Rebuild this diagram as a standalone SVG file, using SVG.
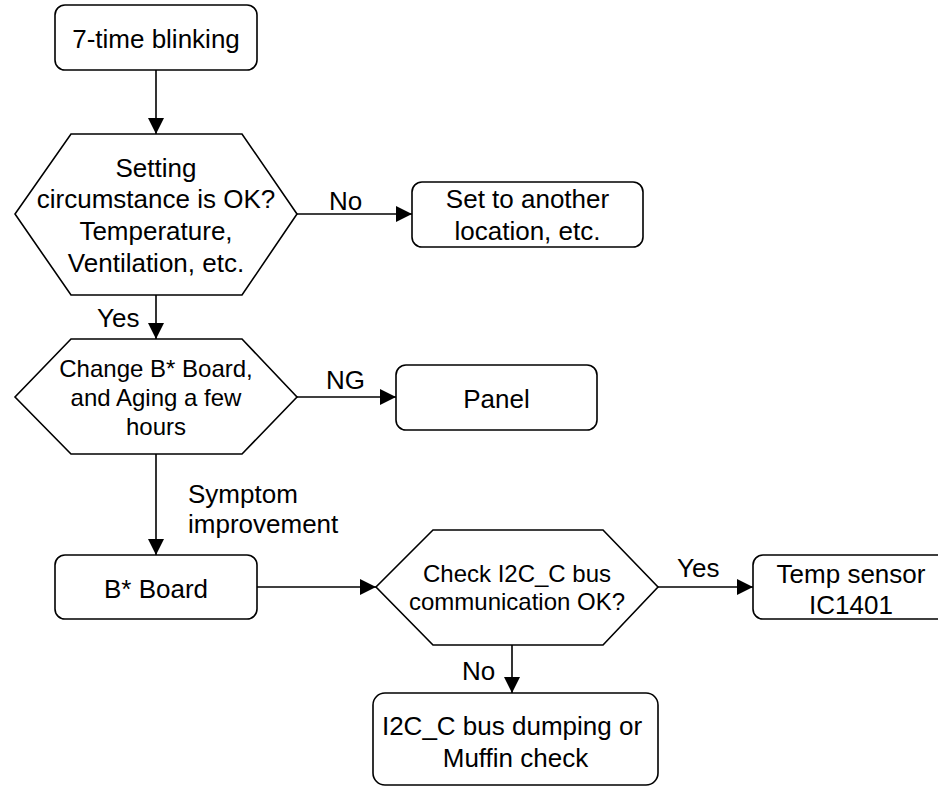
<svg xmlns="http://www.w3.org/2000/svg" width="938" height="787" viewBox="0 0 938 787">
<style>
.box{fill:#fff;stroke:#000;stroke-width:1.6}
.ln{fill:none;stroke:#000;stroke-width:1.6}
text{font-family:"Liberation Sans",Arial,sans-serif;font-size:26px;fill:#000}
.c{text-anchor:middle}
.s{font-size:24px}
</style>
<defs>
<marker id="ah" viewBox="0 0 16 16" refX="16" refY="8" markerWidth="16" markerHeight="16" markerUnits="userSpaceOnUse" orient="auto">
<path d="M0,0 L16,8 L0,16 z" fill="#000"/>
</marker>
</defs>
<rect width="938" height="787" fill="#fff"/>
<g id="connectors">
<line class="ln" x1="156" y1="70" x2="156" y2="134" marker-end="url(#ah)"/>
<line class="ln" x1="297" y1="214" x2="412" y2="214" marker-end="url(#ah)"/>
<line class="ln" x1="156" y1="295" x2="156" y2="339" marker-end="url(#ah)"/>
<line class="ln" x1="297" y1="397" x2="396" y2="397" marker-end="url(#ah)"/>
<line class="ln" x1="156" y1="454" x2="156" y2="555" marker-end="url(#ah)"/>
<line class="ln" x1="257" y1="587" x2="376" y2="587" marker-end="url(#ah)"/>
<line class="ln" x1="658" y1="587" x2="753" y2="587" marker-end="url(#ah)"/>
<line class="ln" x1="512" y1="645" x2="512" y2="693" marker-end="url(#ah)"/>
<text x="329" y="210">No</text>
<text x="97" y="327">Yes</text>
<text x="326" y="389">NG</text>
<text x="188" y="503">Symptom</text>
<text x="188" y="533">improvement</text>
<text x="677" y="577">Yes</text>
<text x="462" y="680">No</text>
</g>
<g id="start">
<rect class="box" x="55" y="5" width="202" height="65" rx="10"/>
<text class="c" x="156" y="47.5">7-time blinking</text>
</g>
<g id="check-setting">
<polygon class="box" points="71,134 242,134 297,214 242,295 71,295 15,214"/>
<text class="c" x="156" y="177">Setting</text>
<text class="c" x="156" y="208">circumstance is OK?</text>
<text class="c" x="156" y="240">Temperature,</text>
<text class="c" x="156" y="272">Ventilation, etc.</text>
</g>
<g id="relocate">
<rect class="box" x="412" y="182" width="231" height="65" rx="10"/>
<text class="c" x="527.5" y="208">Set to another</text>
<text class="c" x="527.5" y="240">location, etc.</text>
</g>
<g id="change-board">
<polygon class="box" points="71,339 242,339 297,397 242,454 71,454 15,397"/>
<text class="c s" x="156" y="377">Change B* Board,</text>
<text class="c s" x="156" y="406">and Aging a few</text>
<text class="c s" x="156" y="435">hours</text>
</g>
<g id="panel">
<rect class="box" x="396" y="365" width="201" height="65" rx="10"/>
<text class="c" x="496.5" y="408">Panel</text>
</g>
<g id="b-board">
<rect class="box" x="55" y="555" width="202" height="64" rx="10"/>
<text class="c" x="156" y="598">B* Board</text>
</g>
<g id="check-i2c">
<polygon class="box" points="433,530 603,530 658,587 603,645 433,645 376,587"/>
<text class="c s" x="517" y="582">Check I2C_C bus</text>
<text class="c s" x="517" y="610">communication OK?</text>
</g>
<g id="temp-sensor">
<rect class="box" x="753" y="555" width="196" height="64" rx="10"/>
<text class="c" x="851" y="582.5">Temp sensor</text>
<text class="c" x="851" y="613.5">IC1401</text>
</g>
<g id="i2c-dump">
<rect class="box" x="373" y="693" width="285" height="92" rx="12"/>
<text class="c" x="512" y="735">I2C_C bus dumping or</text>
<text class="c" x="515.5" y="767">Muffin check</text>
</g>
</svg>
